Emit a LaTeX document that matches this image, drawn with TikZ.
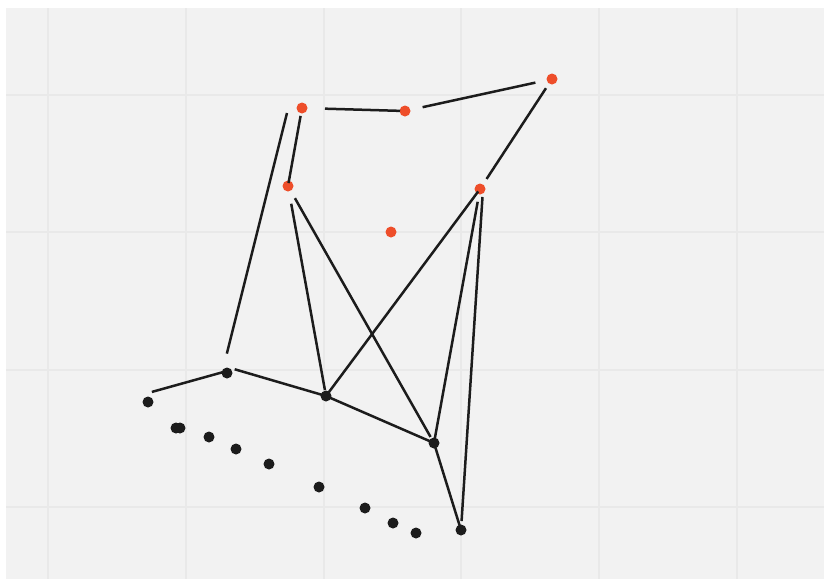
\documentclass[tikz,border=0pt]{standalone}
\usepackage{tikz}
\usetikzlibrary{positioning}

\definecolor{panelgray}{RGB}{242,242,242}
\definecolor{gridgray}{RGB}{233,233,233}
\definecolor{hotorange}{RGB}{238,78,42}
\definecolor{inkblack}{RGB}{28,28,28}

\begin{document}
\begin{tikzpicture}[
    x=1pt, y=-1pt,
    hot/.style={circle, fill=hotorange, inner sep=0pt, minimum size=11pt},
    cold/.style={circle, fill=inkblack, inner sep=0pt, minimum size=11pt},
    link/.style={draw=inkblack, line width=2.5pt},
    grid/.style={draw=gridgray, line width=1.2pt}
]
    \useasboundingbox (0,0) rectangle (824,579);

    % Panel and grid
    \fill[white] (0,0) rectangle (824,579);
    \fill[panelgray] (6,8) rectangle (824,579);
    \foreach \gx in {48,186,324,461,599,737} {
        \draw[grid] (\gx,8) -- (\gx,579);
    }
    \foreach \gy in {95,232,370,507} {
        \draw[grid] (6,\gy) -- (824,\gy);
    }

    % Orange points
    \node [hot] (o1) at (302,108) {};
    \node [hot] (o2) at (405,111) {};
    \node [hot] (o3) at (552,79) {};
    \node [hot] (o4) at (288,186) {};
    \node [hot] (o5) at (480,189) {};
    \node [hot] (o6) at (391,232) {};

    % Black points
    \node [cold] (b1) at (148,402) {};
    \node [cold] (b2) at (227,373) {};
    \node [cold] (b3) at (326,396) {};
    \node [cold] (b4) at (434,443) {};
    \node [cold] (b5) at (461,530) {};

    % Loose dots along the bottom
    \foreach \dx/\dy [count=\k] in {176/428, 180/428, 209/437, 236/449, 269/464,
                                    319/487, 365/508, 393/523, 416/533} {
        \node [cold] (d\k) at (\dx,\dy) {};
    }

    \coordinate (o1foot) at (287,113);

    % Connectors
    \draw[link, shorten <=23pt, shorten >=5pt] (o1.center) -- (o2.center);
    \draw[link, shorten <=18pt, shorten >=17pt] (o2.center) -- (o3.center);
    \draw[link, shorten <=11pt, shorten >=12pt] (o3.center) -- (o5.center);
    \draw[link, shorten <=8pt, shorten >=3pt] (o1.center) -- (o4.center);
    \draw[link, shorten <=20pt] ([xshift=-5pt]b2.center) -- (o1foot);
    \draw[link, shorten <=18pt, shorten >=6pt] (o4.center) -- (b3.center);
    \draw[link, shorten <=14pt, shorten >=7pt] (o4.center) -- (b4.center);
    \draw[link, shorten <=3pt] (o5.center) -- (b3.center);
    \draw[link, shorten <=13pt] (o5.center) -- (b4.center);
    \draw[link, shorten <=8pt, shorten >=9pt] ([xshift=3pt]o5.center) -- (b5.center);
    \draw[link, shorten <=8pt] ([yshift=6pt]b2.center) -- (b3.center);
    \draw[link, shorten <=4pt, shorten >=4pt]
        ([yshift=9pt]b1.center) -- ([yshift=2pt]b2.center);
    \draw[link] (b3.center) -- (b4.center);
    \draw[link] (b4.center) -- (b5.center);

\end{tikzpicture}
\end{document}
